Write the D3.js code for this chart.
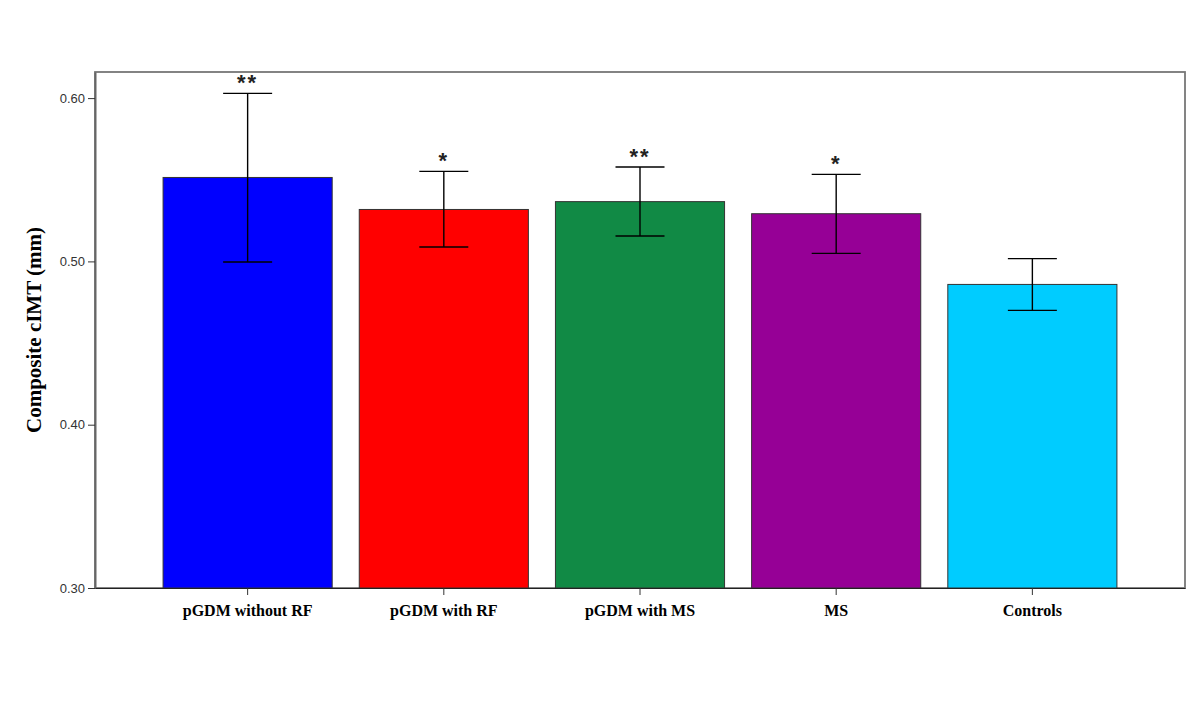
<!DOCTYPE html>
<html>
<head>
<meta charset="utf-8">
<script src="https://cdn.jsdelivr.net/npm/d3@7"></script>
<style>
    body { margin: 0; background: #fff; }
</style>
</head>
<body>
<script>
const groups = ['pGDM without RF', 'pGDM with RF', 'pGDM with MS', 'MS', 'Controls'];
const means = [0.5514, 0.5318, 0.5366, 0.5292, 0.4859];
const errHigh = [0.6029, 0.5551, 0.5578, 0.5533, 0.5017];
const errLow = [0.4996, 0.5088, 0.5156, 0.5049, 0.4700];
const stars = ['**', '*', '**', '*', ''];
const colors = ['#0000ff', '#ff0000', '#118a45', '#960096', '#00ccff'];
const yTicks = [0.30, 0.40, 0.50, 0.60];

const width = 1200, height = 710;
const plotLeft = 95, plotRight = 1185, plotTop = 72, plotBottom = 588;

const svg = d3.select('body').append('svg')
    .attr('width', width)
    .attr('height', height);

const x = d3.scaleBand()
    .domain(groups)
    .range([plotLeft, plotRight])
    .paddingInner(0.138)
    .paddingOuter(0.347);

const y = d3.scaleLinear()
    .domain([0.30, 0.30 + (plotBottom - plotTop) / 1633])
    .range([plotBottom, plotTop]);

// frame
svg.append('rect')
    .attr('x', plotLeft).attr('y', plotTop)
    .attr('width', plotRight - plotLeft).attr('height', plotBottom - plotTop)
    .attr('fill', 'none')
    .attr('stroke', '#777')
    .attr('stroke-width', 1.8);

// bars
svg.append('g').selectAll('rect')
    .data(groups)
    .join('rect')
    .attr('x', d => x(d))
    .attr('y', (d, i) => y(means[i]))
    .attr('width', x.bandwidth())
    .attr('height', (d, i) => y(0.30) - y(means[i]))
    .attr('fill', (d, i) => colors[i])
    .attr('stroke', '#333')
    .attr('stroke-width', 1);

// error bars
const capW = 49;
const eb = svg.append('g')
    .attr('stroke', '#000')
    .attr('stroke-width', 1.4);
groups.forEach((g, i) => {
    const cx = x(g) + x.bandwidth() / 2;
    eb.append('line')
        .attr('x1', cx).attr('x2', cx)
        .attr('y1', y(errHigh[i])).attr('y2', y(errLow[i]));
    [errHigh[i], errLow[i]].forEach(v => {
        eb.append('line')
            .attr('x1', cx - capW / 2).attr('x2', cx + capW / 2)
            .attr('y1', y(v)).attr('y2', y(v));
    });
    if (stars[i]) {
        svg.append('text')
            .attr('x', cx)
            .attr('y', y(errHigh[i]) - 3)
            .attr('text-anchor', 'middle')
            .attr('font-family', 'Liberation Sans, Arial, sans-serif')
            .attr('font-weight', 'bold')
            .attr('font-size', 22)
            .attr('letter-spacing', 2)
            .attr('fill', '#222')
            .text(stars[i]);
    }
});

// y axis
const yAxis = svg.append('g')
    .attr('transform', `translate(${plotLeft},0)`)
    .call(d3.axisLeft(y).tickValues(yTicks).tickFormat(d3.format('.2f'))
        .tickSize(7).tickSizeOuter(0).tickPadding(3));
yAxis.select('.domain').attr('stroke', '#666').attr('stroke-width', 2);
yAxis.selectAll('.tick line').attr('stroke', '#333');
yAxis.selectAll('text')
    .attr('font-family', 'Liberation Sans, Arial, sans-serif')
    .attr('font-size', 13)
    .attr('fill', '#333');

// x axis
const xAxis = svg.append('g')
    .attr('transform', `translate(0,${plotBottom})`)
    .call(d3.axisBottom(x).tickSize(7).tickPadding(10).tickSizeOuter(0));
xAxis.select('.domain').attr('stroke', '#222').attr('stroke-width', 1.2);
xAxis.selectAll('.tick line').attr('stroke', '#333');
xAxis.selectAll('text')
    .attr('font-family', 'Liberation Serif, Times New Roman, serif')
    .attr('font-weight', 'bold')
    .attr('font-size', 16)
    .attr('fill', '#000');

// y title
svg.append('text')
    .attr('transform', `translate(41,${(plotTop + plotBottom) / 2}) rotate(-90)`)
    .attr('text-anchor', 'middle')
    .attr('font-family', 'Liberation Serif, Times New Roman, serif')
    .attr('font-weight', 'bold')
    .attr('font-size', 21)
    .attr('fill', '#000')
    .text('Composite cIMT (mm)');
</script>
</body>
</html>
